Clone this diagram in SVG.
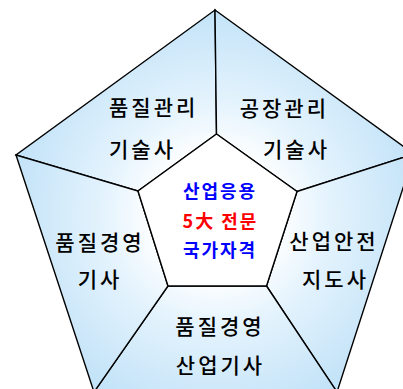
<svg xmlns="http://www.w3.org/2000/svg" width="403" height="389" viewBox="0 0 403 389">
<style>
.seg{fill:url(#g);stroke:#000;stroke-width:1.4;stroke-linejoin:miter}
.core{fill:#fff;stroke:#000;stroke-width:1.4}
.t{font-family:"Noto Sans CJK KR","Noto Sans",sans-serif;font-size:21px;fill:#000;letter-spacing:3px;dominant-baseline:central;font-weight:500}
.c{font-family:"Noto Sans CJK KR","Noto Sans",sans-serif;font-size:18px;letter-spacing:2px;dominant-baseline:central;font-weight:700;text-anchor:middle}
</style>
<defs>
<radialGradient id="g" gradientUnits="userSpaceOnUse" cx="216" cy="215" r="205">
<stop offset="0.3" stop-color="#ffffff"/>
<stop offset="0.55" stop-color="#e4f3fd"/>
<stop offset="1" stop-color="#c3e3f8"/>
</radialGradient>
</defs>
<rect width="403" height="389" fill="#fff"/>
<g id="connectors">
<g id="seg-top-left"><path class="seg" d="M215,10 L216.5,134 L138,191 L16,155 Z"/></g>
<g id="seg-top-right"><path class="seg" d="M215,10 L414,154 L297,191.5 L216.5,134 Z"/></g>
<g id="seg-right"><path class="seg" d="M414,154 L337,392 L266.5,286 L297,191.5 Z"/></g>
<g id="seg-bottom"><path class="seg" d="M337,392 L94,392 L168,286 L266.5,286 Z"/></g>
<g id="seg-left"><path class="seg" d="M94,392 L16,155 L138,191 L168,286 Z"/></g>
</g>
<g id="node-center">
<path class="core" d="M216.5,134 L297,191.5 L266.5,286 L168,286 L138,191 Z"/>
<text class="c" x="220" y="190" fill="#0000ff">산업응용</text>
<text class="c" x="220.5" y="220" fill="#ff0000">5大 전문</text>
<text class="c" x="220" y="248.5" fill="#0000ff">국가자격</text>
</g>
<g id="node-qm-engineer">
<text class="t" x="109" y="106">품질관리</text>
<text class="t" x="109" y="147.5">기술사</text>
</g>
<g id="node-factory">
<text class="t" x="329" y="107" text-anchor="end">공장관리</text>
<text class="t" x="330" y="148" text-anchor="end">기술사</text>
</g>
<g id="node-qmgmt">
<text class="t" x="100" y="240.5" text-anchor="middle">품질경영</text>
<text class="t" x="100" y="278" text-anchor="middle">기사</text>
</g>
<g id="node-safety">
<text class="t" x="334" y="239.5" text-anchor="middle">산업안전</text>
<text class="t" x="335.5" y="277.5" text-anchor="middle">지도사</text>
</g>
<g id="node-industrial">
<text class="t" x="220" y="325" text-anchor="middle">품질경영</text>
<text class="t" x="220.5" y="364" text-anchor="middle">산업기사</text>
</g>
</svg>
